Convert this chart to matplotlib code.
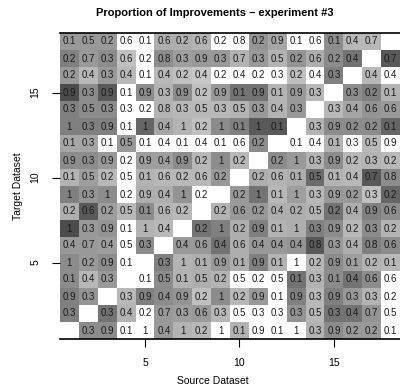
import numpy as np
import matplotlib

matplotlib.use("Agg")
import matplotlib.pyplot as plt

plt.rcParams["font.family"] = ["Liberation Sans", "DejaVu Sans"]

nan = np.nan

# proportion shown in each cell, rows listed from the top (target 18) down to target 1
proportions = [
    [0.1, 0.5, 0.2, 0.6, 0.1, 0.6, 0.2, 0.6, 0.2, 0.8, 0.2, 0.9, 0.1, 0.6, 0.1, 0.4, 0.7, nan],
    [0.2, 0.7, 0.3, 0.6, 0.2, 0.8, 0.3, 0.9, 0.3, 0.7, 0.3, 0.5, 0.2, 0.6, 0.2, 0.4, nan, 0.7],
    [0.2, 0.4, 0.3, 0.4, 0.1, 0.4, 0.2, 0.4, 0.2, 0.4, 0.2, 0.3, 0.2, 0.4, 0.3, nan, 0.4, 0.4],
    [0.9, 0.3, 0.9, 0.1, 0.9, 0.3, 0.9, 0.2, 0.9, 0.1, 0.9, 0.1, 0.9, 0.3, nan, 0.3, 0.2, 0.1],
    [0.3, 0.5, 0.3, 0.3, 0.2, 0.8, 0.3, 0.5, 0.3, 0.5, 0.3, 0.4, 0.3, nan, 0.3, 0.4, 0.6, 0.6],
    [1, 0.3, 0.9, 0.1, 1, 0.4, 1, 0.2, 1, 0.1, 1, 0.1, nan, 0.3, 0.9, 0.2, 0.2, 0.1],
    [0.1, 0.3, 0.1, 0.5, 0.1, 0.4, 0.1, 0.4, 0.1, 0.6, 0.2, nan, 0.1, 0.4, 0.1, 0.3, 0.5, 0.9],
    [0.9, 0.3, 0.9, 0.2, 0.9, 0.4, 0.9, 0.2, 1, 0.2, nan, 0.2, 1, 0.3, 0.9, 0.2, 0.3, 0.2],
    [0.1, 0.5, 0.2, 0.5, 0.1, 0.6, 0.2, 0.6, 0.2, nan, 0.2, 0.6, 0.1, 0.5, 0.1, 0.4, 0.7, 0.8],
    [1, 0.3, 1, 0.2, 0.9, 0.4, 1, 0.2, nan, 0.2, 1, 0.1, 1, 0.3, 0.9, 0.2, 0.3, 0.2],
    [0.2, 0.6, 0.2, 0.5, 0.1, 0.6, 0.2, nan, 0.2, 0.6, 0.2, 0.4, 0.2, 0.5, 0.2, 0.4, 0.9, 0.6],
    [1, 0.3, 0.9, 0.1, 1, 0.4, nan, 0.2, 1, 0.2, 0.9, 0.1, 1, 0.3, 0.9, 0.2, 0.3, 0.2],
    [0.4, 0.7, 0.4, 0.5, 0.3, nan, 0.4, 0.6, 0.4, 0.6, 0.4, 0.4, 0.4, 0.8, 0.3, 0.4, 0.8, 0.6],
    [1, 0.2, 0.9, 0.1, nan, 0.3, 1, 0.1, 0.9, 0.1, 0.9, 0.1, 1, 0.2, 0.9, 0.1, 0.2, 0.1],
    [0.1, 0.4, 0.3, nan, 0.1, 0.5, 0.1, 0.5, 0.2, 0.5, 0.2, 0.5, 0.1, 0.3, 0.1, 0.4, 0.6, 0.6],
    [0.9, 0.3, nan, 0.3, 0.9, 0.4, 0.9, 0.2, 1, 0.2, 0.9, 0.1, 0.9, 0.3, 0.9, 0.3, 0.3, 0.2],
    [0.3, nan, 0.3, 0.4, 0.2, 0.7, 0.3, 0.6, 0.3, 0.5, 0.3, 0.3, 0.3, 0.5, 0.3, 0.4, 0.7, 0.5],
    [nan, 0.3, 0.9, 0.1, 1, 0.4, 1, 0.2, 1, 0.1, 0.9, 0.1, 1, 0.3, 0.9, 0.2, 0.2, 0.1],
]

# cell shading (grey level, 1 = white), same row order
cell_gray = [
    [0.6, 0.6, 0.6, 1, 1, 0.68, 0.68, 0.7, 1, 1, 0.58, 0.65, 1, 1, 0.55, 0.72, 0.72, 1],
    [0.5, 0.6, 0.55, 0.75, 1, 0.55, 0.62, 0.6, 0.6, 0.7, 0.6, 0.7, 0.58, 0.68, 0.55, 0.45, 1, 0.35],
    [0.6, 0.72, 0.6, 0.72, 1, 0.72, 0.75, 0.78, 1, 1, 1, 1, 0.75, 1, 0.5, 1, 0.72, 1],
    [0.3, 0.55, 0.35, 1, 0.55, 0.7, 0.55, 0.75, 0.6, 0.45, 0.45, 0.7, 0.6, 0.72, 1, 0.55, 0.5, 0.7],
    [0.5, 0.55, 0.55, 1, 1, 0.7, 0.72, 0.72, 0.72, 0.7, 0.6, 0.7, 0.6, 1, 0.72, 0.65, 0.58, 0.6],
    [0.5, 0.5, 0.5, 1, 0.4, 0.65, 0.7, 0.75, 0.55, 0.5, 0.35, 0.35, 1, 0.7, 0.55, 0.55, 0.55, 0.4],
    [0.65, 0.65, 1, 0.6, 1, 1, 1, 1, 1, 1, 0.55, 1, 1, 1, 0.7, 1, 0.72, 1],
    [0.55, 0.55, 0.6, 1, 0.62, 0.62, 0.55, 0.72, 0.55, 0.72, 1, 0.55, 0.6, 0.7, 0.55, 0.72, 0.7, 0.72],
    [0.7, 0.62, 0.72, 1, 0.7, 0.72, 0.72, 0.72, 0.6, 1, 0.68, 0.7, 0.68, 0.42, 0.7, 0.72, 0.35, 0.55],
    [0.5, 0.58, 0.55, 1, 0.68, 0.68, 0.58, 1, 1, 0.6, 0.45, 0.72, 0.62, 0.72, 0.6, 0.6, 0.75, 0.4],
    [0.68, 0.35, 0.62, 0.72, 0.55, 0.7, 0.72, 1, 0.7, 0.6, 0.6, 0.68, 0.68, 0.7, 0.45, 0.68, 0.5, 0.55],
    [0.3, 0.6, 0.58, 1, 0.7, 0.72, 1, 0.45, 0.5, 0.68, 0.5, 0.7, 0.68, 0.5, 0.55, 0.72, 0.55, 0.7],
    [0.6, 0.6, 0.62, 1, 0.55, 1, 0.6, 0.6, 0.45, 0.68, 0.6, 0.6, 0.58, 0.35, 0.6, 0.68, 0.5, 0.55],
    [0.55, 0.6, 0.55, 1, 1, 0.5, 0.7, 0.68, 0.6, 0.68, 0.5, 0.7, 1, 0.72, 0.55, 0.62, 0.7, 0.72],
    [0.55, 0.72, 0.6, 1, 1, 0.55, 0.7, 0.68, 0.7, 1, 1, 1, 0.45, 0.7, 0.55, 0.45, 0.55, 1],
    [0.5, 0.58, 1, 0.72, 0.5, 0.55, 0.58, 0.75, 0.55, 0.72, 0.6, 1, 0.5, 0.72, 0.5, 0.6, 0.7, 1],
    [0.5, 1, 0.45, 0.7, 1, 0.6, 0.62, 0.6, 0.72, 1, 1, 1, 0.58, 0.72, 0.45, 0.45, 0.58, 1],
    [1, 0.55, 0.55, 1, 1, 0.6, 0.7, 0.72, 1, 0.7, 1, 1, 1, 0.7, 0.55, 0.6, 0.6, 1],
]

ticks = [5, 10, 15]


def main():
    props = np.array(proportions, dtype=float)[::-1]
    gray = np.array(cell_gray, dtype=float)[::-1]
    n_rows, n_cols = props.shape

    fig = plt.figure(figsize=(4.0, 3.9), dpi=100)
    ax = fig.add_axes([60 / 400, 51 / 390, 340 / 400, 306 / 390])

    edges_x = np.arange(n_cols + 1) + 0.5
    edges_y = np.arange(n_rows + 1) + 0.5
    ax.pcolormesh(edges_x, edges_y, gray, cmap="gray", vmin=0, vmax=1)

    for r in range(n_rows):
        for c in range(n_cols):
            v = props[r, c]
            if np.isnan(v):
                continue
            ax.text(c + 1, r + 1, f"{v:g}", ha="center", va="center",
                    fontsize=7, color="#1a1a1a")

    ax.set_xlim(0.5, n_cols + 0.5)
    ax.set_ylim(0.5, n_rows + 0.5)
    ax.set_xticks(ticks)
    ax.set_yticks(ticks)
    ax.set_yticklabels([str(t) for t in ticks], rotation=90, va="center")
    ax.tick_params(length=6, width=0.8, labelsize=7.5, pad=8)
    for side in ("left", "right"):
        ax.spines[side].set_visible(False)
    for side in ("top", "bottom"):
        ax.spines[side].set_linewidth(1.2)

    fig.text(215 / 400, 1 - 13 / 390, "Proportion of Improvements \u2013 experiment #3",
             ha="center", va="center", fontsize=8, fontweight="bold")
    fig.text(213 / 400, 1 - 381 / 390, "Source Dataset", ha="center", va="center",
             fontsize=7.5)
    fig.text(18 / 400, 1 - 186 / 390, "Target Dataset", ha="center", va="center",
             rotation=90, fontsize=7.5)

    fig.savefig("out.png", dpi=100)


if __name__ == "__main__":
    main()
